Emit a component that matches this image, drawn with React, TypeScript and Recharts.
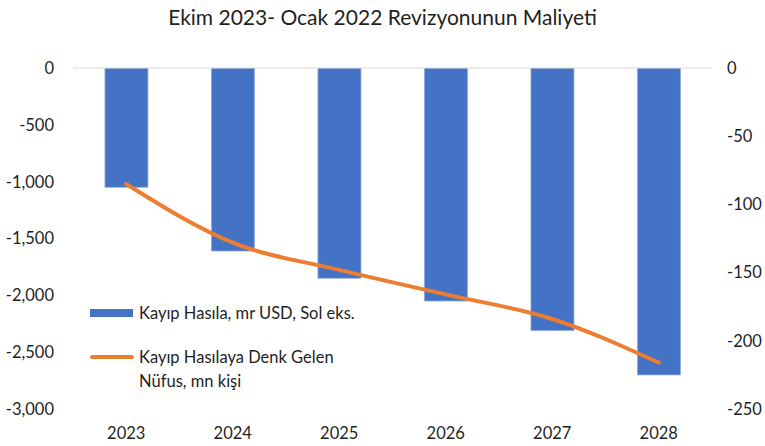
import React from 'react';
import {
  ComposedChart, Bar, Line, XAxis, YAxis, ReferenceLine,
} from 'recharts';

const YEARS = ['2023', '2024', '2025', '2026', '2027', '2028'];
const LOST_OUTPUT = [-1050, -1610, -1850, -2050, -2310, -2700];
const LOST_POPULATION = [-85, -128, -148, -166, -184, -216];
const LEFT_TICKS = [0, -500, -1000, -1500, -2000, -2500, -3000];
const RIGHT_TICKS = [0, -50, -100, -150, -200, -250];

const BAR_NAME = 'Kayıp Hasıla, mr USD, Sol eks.';
const LINE_NAME = ['Kayıp Hasılaya Denk Gelen', 'Nüfus, mn kişi'];

const FONT = 'Lato, "Open Sans", sans-serif';
const TEXT = '#1f1f1f';

const data = YEARS.map((year, i) => ({
  year,
  output: LOST_OUTPUT[i],
  population: LOST_POPULATION[i],
}));

const fmt = (v: number) => v.toLocaleString('en-US');

/** Легенда поверх области графика, как в исходнике */
function LegendBox(): React.JSX.Element {
  return (
    <div style={{
      position: 'absolute', left: 90, top: 301, width: 320,
      fontFamily: FONT, fontSize: 16.5, color: TEXT, lineHeight: '24px',
    }}>
      <div style={{ display: 'flex', alignItems: 'center' }}>
        <span style={{ width: 43, height: 8, background: '#4472C4', marginRight: 6 }} />
        <span>{BAR_NAME}</span>
      </div>
      <div style={{ display: 'flex', alignItems: 'flex-start', marginTop: 20 }}>
        <span style={{ width: 44, height: 4, borderRadius: 2, background: '#ED7D31', marginRight: 5, marginTop: 10 }} />
        <span>{LINE_NAME[0]}<br />{LINE_NAME[1]}</span>
      </div>
    </div>
  );
}

export default function App(): React.JSX.Element {
  return (
    <div style={{ position: 'absolute', left: 0, top: 0, width: 765, height: 446, background: '#fff' }}>
      <div style={{
        position: 'absolute', left: 0, top: 4, width: 765, textAlign: 'center',
        fontFamily: FONT, fontSize: 21, color: TEXT,
      }}>
        Ekim 2023- Ocak 2022 Revizyonunun Maliyeti
      </div>
      <ComposedChart
        width={765}
        height={446}
        data={data}
        margin={{ top: 68, right: 0, bottom: 0, left: 0 }}
        barCategoryGap="30%"
      >
        <XAxis
          dataKey="year"
          axisLine={false}
          tickLine={false}
          tickSize={0}
          tickMargin={18}
          height={37}
          tick={{ fill: TEXT, fontSize: 16.5, fontFamily: FONT }}
        />
        <YAxis
          yAxisId="left"
          domain={[-3000, 0]}
          ticks={LEFT_TICKS}
          allowDataOverflow
          axisLine={false}
          tickLine={false}
          tickSize={0}
          tickMargin={19}
          width={73}
          tickFormatter={fmt}
          tick={{ fill: TEXT, fontSize: 16.5, fontFamily: FONT }}
        />
        <YAxis
          yAxisId="right"
          orientation="right"
          domain={[-250, 0]}
          ticks={RIGHT_TICKS}
          allowDataOverflow
          axisLine={false}
          tickLine={false}
          tickSize={0}
          tickMargin={15}
          width={53}
          tickFormatter={fmt}
          tick={{ fill: TEXT, fontSize: 16.5, fontFamily: FONT, textAnchor: 'start' }}
        />
        <ReferenceLine yAxisId="left" y={0} stroke="#d9d9d9" strokeWidth={1} />
        <Bar
          yAxisId="left"
          dataKey="output"
          name={BAR_NAME}
          fill="#4472C4"
          stroke="#8eaadb"
          strokeWidth={0.75}
          isAnimationActive={false}
        />
        <Line
          yAxisId="right"
          dataKey="population"
          name={LINE_NAME.join(' ')}
          type="monotone"
          stroke="#ED7D31"
          strokeWidth={4}
          strokeLinecap="round"
          dot={false}
          activeDot={false}
          isAnimationActive={false}
        />
      </ComposedChart>
      <LegendBox />
    </div>
  );
}
